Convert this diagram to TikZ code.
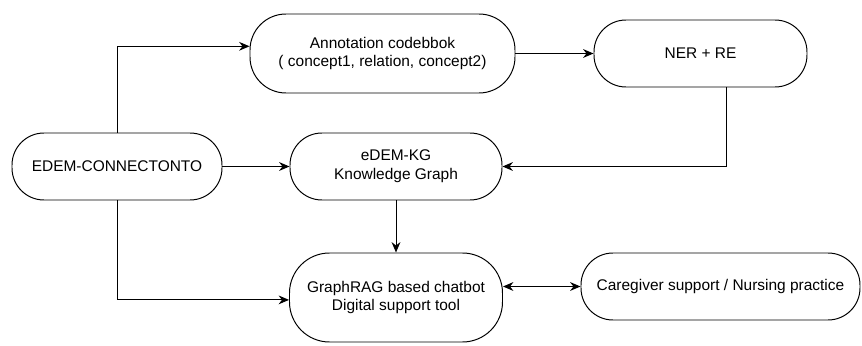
\documentclass[tikz,border=0pt]{standalone}
\usepackage{fontspec}
\setmainfont{Liberation Sans}
\usetikzlibrary{calc,arrows.meta}

\begin{document}
\begin{tikzpicture}[
	box/.style={draw, line width=0.7pt, rounded corners=0.8cm, align=center, inner sep=0pt,
		font=\fontsize{11}{13.5}\selectfont},
	arr/.style={line width=0.7pt, -{Stealth[length=2.6mm,width=2.2mm]}}]
	\useasboundingbox (0,0) rectangle (21.55,8.625);
	
	%Drawing boxes
	\node[box, minimum width=6.625cm, minimum height=1.975cm, rounded corners=0.9cm] (anno) at (9.5625,7.2875) {Annotation codebbok\\( concept1, relation, concept2)};
	\node[box, minimum width=5.325cm, minimum height=1.675cm] (ner) at (17.5125,7.2875) {NER + RE};
	\node[box, minimum width=5.25cm, minimum height=1.675cm] (edem) at (2.925,4.4625) {EDEM-CONNECTONTO};
	\node[box, minimum width=5.3cm, minimum height=1.675cm] (kg) at (9.9,4.4625) {eDEM-KG\\Knowledge Graph};
	\node[box, minimum width=5.325cm, minimum height=2.225cm, rounded corners=1cm] (rag) at (9.9,1.1875) {GraphRAG based chatbot\\Digital support tool};
	\node[box, minimum width=6.975cm, minimum height=1.675cm] (care) at (18.0125,1.4625) {Caregiver support / Nursing practice};
	
	%Drawing arrows
	\draw[arr] (edem.north) |- ($(anno.west)+(0,0.18)$);
	\draw[arr] (anno.east) -- (ner.west);
	\draw[arr] ($(ner.south)+(0.64,0)$) |- (kg.east);
	\draw[arr] (edem.east) -- (kg.west);
	\draw[arr] (edem.south) |- ($(rag.west)-(0,0.06)$);
	\draw[arr] (kg.south) -- (rag.north);
	\draw[arr, {Stealth[length=2.6mm,width=2.2mm]}-{Stealth[length=2.6mm,width=2.2mm]}] (care.west -| rag.east) -- (care.west);
	
\end{tikzpicture}
\end{document}
